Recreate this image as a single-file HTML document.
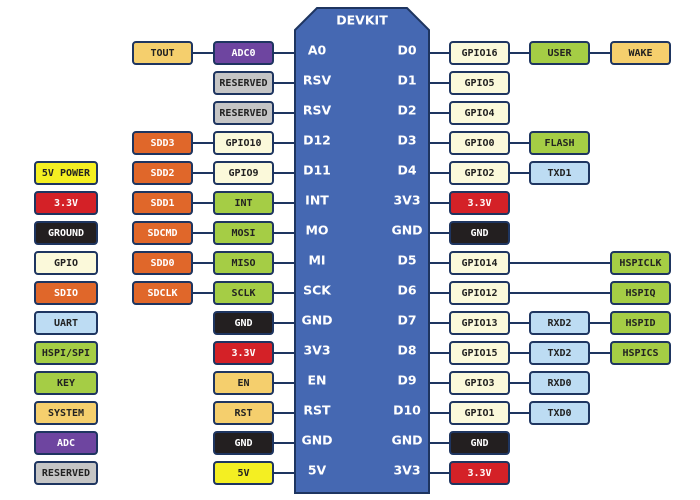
<!DOCTYPE html>
<html><head><meta charset="utf-8"><style>
html,body{margin:0;padding:0;background:#fff;width:700px;height:500px;overflow:hidden}
svg text{font-family:"DejaVu Sans Mono","Liberation Mono",monospace;font-weight:bold;font-size:10px;text-anchor:middle;dominant-baseline:central}
.pin{font-family:"DejaVu Sans","Liberation Sans",sans-serif;font-size:12.5px;fill:#fff}
</style></head><body>
<svg width="700" height="500" xmlns="http://www.w3.org/2000/svg">
<g stroke="#1e3560" stroke-width="2" id="lines"></g>
<polygon points="295,30 317,8 407,8 429,30 429,493 295,493" fill="#4568b2" stroke="#1e3560" stroke-width="2"/>
<text x="362" y="20" class="pin">DEVKIT</text>
<g id="boxes"></g>
</svg>
<script>
var C={cream:["#fbf9da","#222"],orange:["#e0672a","#fff"],green:["#a5cd45","#222"],blue:["#bddcf3","#222"],gold:["#f5cf6d","#222"],purple:["#6e45a0","#fff"],grey:["#c5c5c5","#222"],red:["#d42127","#fff"],black:["#231f20","#fff"],yellow:["#f4ef22","#222"]};
var ns="http://www.w3.org/2000/svg";
var B=document.getElementById("boxes"),L=document.getElementById("lines");
function box(x,t,c,y){var r=document.createElementNS(ns,"rect");r.setAttribute("x",x);r.setAttribute("y",y-11);r.setAttribute("width",x<100?62:59);r.setAttribute("height",22);r.setAttribute("rx",3);r.setAttribute("fill",C[c][0]);r.setAttribute("stroke","#1e3560");r.setAttribute("stroke-width","2");B.appendChild(r);
var tx=document.createElementNS(ns,"text");tx.setAttribute("x",x+(x<100?31:29.5));tx.setAttribute("y",y+0.5);tx.setAttribute("fill",C[c][1]);tx.textContent=t;B.appendChild(tx);}
function line(x1,x2,y){var l=document.createElementNS(ns,"line");l.setAttribute("x1",x1);l.setAttribute("x2",x2);l.setAttribute("y1",y);l.setAttribute("y2",y);L.appendChild(l);}
function pin(x,t,y){var tx=document.createElementNS(ns,"text");tx.setAttribute("x",x);tx.setAttribute("y",y);tx.setAttribute("class","pin");tx.textContent=t;B.appendChild(tx);}
var legend=[["5V POWER","yellow"],["3.3V","red"],["GROUND","black"],["GPIO","cream"],["SDIO","orange"],["UART","blue"],["HSPI/SPI","green"],["KEY","green"],["SYSTEM","gold"],["ADC","purple"],["RESERVED","grey"]];
legend.forEach(function(a,i){box(35,a[0],a[1],173+i*30);});
var left=[["A0",["ADC0","purple"],["TOUT","gold"]],["RSV",["RESERVED","grey"]],["RSV",["RESERVED","grey"]],["D12",["GPIO10","cream"],["SDD3","orange"]],["D11",["GPIO9","cream"],["SDD2","orange"]],["INT",["INT","green"],["SDD1","orange"]],["MO",["MOSI","green"],["SDCMD","orange"]],["MI",["MISO","green"],["SDD0","orange"]],["SCK",["SCLK","green"],["SDCLK","orange"]],["GND",["GND","black"]],["3V3",["3.3V","red"]],["EN",["EN","gold"]],["RST",["RST","gold"]],["GND",["GND","black"]],["5V",["5V","yellow"]]];
var right=[["D0",["GPIO16","cream"],["USER","green"],["WAKE","gold"]],["D1",["GPIO5","cream"]],["D2",["GPIO4","cream"]],["D3",["GPIO0","cream"],["FLASH","green"]],["D4",["GPIO2","cream"],["TXD1","blue"]],["3V3",["3.3V","red"]],["GND",["GND","black"]],["D5",["GPIO14","cream"],null,["HSPICLK","green"]],["D6",["GPIO12","cream"],null,["HSPIQ","green"]],["D7",["GPIO13","cream"],["RXD2","blue"],["HSPID","green"]],["D8",["GPIO15","cream"],["TXD2","blue"],["HSPICS","green"]],["D9",["GPIO3","cream"],["RXD0","blue"]],["D10",["GPIO1","cream"],["TXD0","blue"]],["GND",["GND","black"]],["3V3",["3.3V","red"]]];
left.forEach(function(r,i){var y=53+i*30;pin(317,r[0],y-3);var lx=r[2]?162:243;line(lx,296,y);box(214,r[1][0],r[1][1],y);if(r[2])box(133,r[2][0],r[2][1],y);});
right.forEach(function(r,i){var y=53+i*30;pin(407,r[0],y-3);var rx=r[3]?640:(r[2]?560:480);line(428,rx,y);box(450,r[1][0],r[1][1],y);if(r[2])box(530,r[2][0],r[2][1],y);if(r[3])box(611,r[3][0],r[3][1],y);});
</script>
</body></html>
